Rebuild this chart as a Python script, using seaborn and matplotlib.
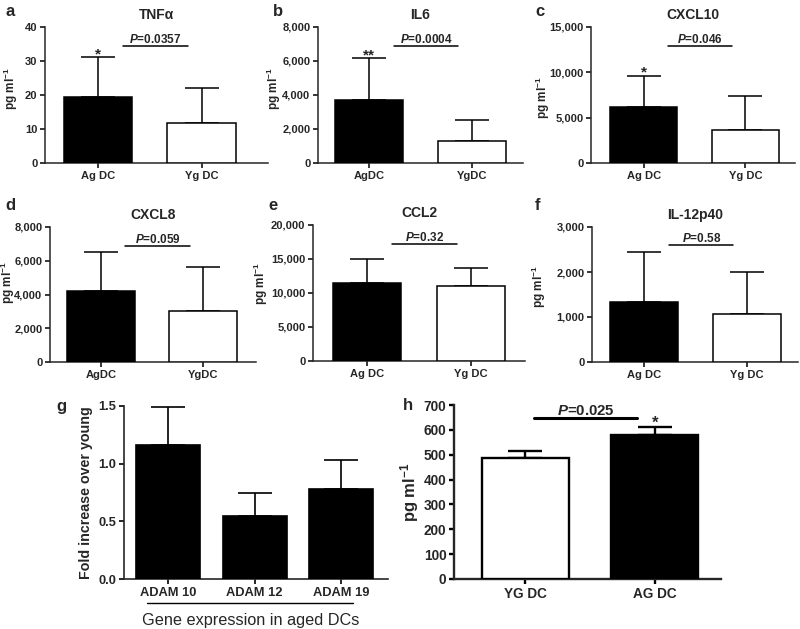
import pandas as pd
import seaborn as sns
import matplotlib.pyplot as plt
from matplotlib.ticker import StrMethodFormatter, MultipleLocator
from matplotlib.transforms import blended_transform_factory

sns.set_theme(style="ticks")
plt.rcParams["font.family"] = ["Liberation Sans", "DejaVu Sans"]
plt.rcParams["font.weight"] = "bold"
plt.rcParams["mathtext.fontset"] = "custom"
plt.rcParams["mathtext.rm"] = "Liberation Sans:bold"
plt.rcParams["mathtext.it"] = "Liberation Sans:italic:bold"
plt.rcParams["mathtext.bf"] = "Liberation Sans:bold"
plt.rcParams["mathtext.default"] = "rm"

# --- data ---
tnfa_groups = ["Ag DC", "Yg DC"]
tnfa_mean = [19.3, 11.9]
tnfa_err = [11.8, 10.1]

il6_groups = ["AgDC", "YgDC"]
il6_mean = [3700, 1300]
il6_err = [2450, 1250]

cxcl10_groups = ["Ag DC", "Yg DC"]
cxcl10_mean = [6200, 3600]
cxcl10_err = [3450, 3750]

cxcl8_groups = ["AgDC", "YgDC"]
cxcl8_mean = [4220, 3030]
cxcl8_err = [2280, 2610]

ccl2_groups = ["Ag DC", "Yg DC"]
ccl2_mean = [11470, 10980]
ccl2_err = [3480, 2700]

il12_groups = ["Ag DC", "Yg DC"]
il12_mean = [1330, 1070]
il12_err = [1110, 930]

adam_groups = ["ADAM 10", "ADAM 12", "ADAM 19"]
adam_fold = [1.16, 0.55, 0.78]
adam_err = [0.33, 0.20, 0.25]

h_groups = ["YG DC", "AG DC"]
h_mean = [488, 580]
h_err = [25, 33]

p_labels = ["0.0357", "0.0004", "0.046", "0.059", "0.32", "0.58", "0.025"]
p_heights = [34.4, 6880, 12900, 6870, 17200, 2600, 647]

W, H = 800, 629
fig = plt.figure(figsize=(W / 100, H / 100), dpi=100)


def add_ax(l, t, r, b):
    return fig.add_axes([l / W, 1 - b / H, (r - l) / W, (b - t) / H])


def draw(ax, groups, mean, err, colors, ymax, ystep, xlim, width, lw,
         tick_fs, fmt="{x:,.0f}"):
    df = pd.DataFrame({"group": groups, "value": mean})
    sns.barplot(data=df, x="group", y="value", hue="group",
                palette=dict(zip(groups, colors)), edgecolor="black",
                linewidth=lw, width=width, legend=False, ax=ax, zorder=3)
    ax.errorbar(range(len(groups)), mean, yerr=[[0] * len(err), err],
                fmt="none", ecolor="black", elinewidth=lw, capsize=12,
                capthick=lw, zorder=2)
    ax.set_ylim(0, ymax)
    ax.set_xlim(*xlim)
    ax.yaxis.set_major_locator(MultipleLocator(ystep))
    ax.yaxis.set_major_formatter(StrMethodFormatter(fmt))
    ax.set_xlabel("")
    ax.set_ylabel("")
    for s in ["top", "right"]:
        ax.spines[s].set_visible(False)
    for s in ["left", "bottom"]:
        ax.spines[s].set_linewidth(lw)
    ax.tick_params(axis="both", length=3.5, width=lw, labelsize=tick_fs,
                   pad=2, color="black")
    ax.set_facecolor("none")


def bracket(ax, x0, x1, y, text, fs, lw):
    ax.plot([x0, x1], [y, y], color="black", lw=lw, clip_on=False)
    ax.annotate(r"$\mathit{P}$=" + text, xy=((x0 + x1) / 2, y),
                xytext=(0, 2.5), textcoords="offset points", ha="center",
                va="baseline", fontsize=fs, fontweight="bold")


def star(ax, x, y, s, fs=11):
    ax.annotate(s, xy=(x, y), xytext=(0, -1), textcoords="offset points",
                ha="center", va="baseline", fontsize=fs, fontweight="bold")


ylab = r"pg ml$^{-1}$"
top_panels = [
    ("a", "TNFα", tnfa_groups, tnfa_mean, tnfa_err, 40, 10,
     (45, 27, 268, 163), (-0.51, 1.64), "*", (5, 12), (15, 89)),
    ("b", "IL6", il6_groups, il6_mean, il6_err, 8000, 2000,
     (318, 27, 523, 163), (-0.50, 1.50), "**", (273, 12), (278, 89)),
    ("c", "CXCL10", cxcl10_groups, cxcl10_mean, cxcl10_err, 15000, 5000,
     (591, 27, 795, 163), (-0.52, 1.49), "*", (535, 12), (547, 98)),
    ("d", "CXCL8", cxcl8_groups, cxcl8_mean, cxcl8_err, 8000, 2000,
     (50, 227, 256, 362), (-0.50, 1.52), "", (5, 205), (12, 283)),
    ("e", "CCL2", ccl2_groups, ccl2_mean, ccl2_err, 20000, 5000,
     (313, 225, 525, 361), (-0.52, 1.52), "", (268, 205), (265, 284)),
    ("f", "IL-12p40", il12_groups, il12_mean, il12_err, 3000, 1000,
     (592, 227, 798, 362), (-0.51, 1.50), "", (535, 206), (543, 287)),
]

for i, (letter, title, groups, mean, err, ymax, ystep, box, xlim, st,
        lpos, ypos) in enumerate(top_panels):
    ax = add_ax(*box)
    draw(ax, groups, mean, err, ["black", "white"], ymax, ystep, xlim,
         0.66, 1.1, 8.0)
    ax.set_title(title, fontsize=10, fontweight="bold", pad=6)
    ax.set_ylabel(ylab, fontsize=8.5, fontweight="bold")
    l, t, r, b = box
    ax.yaxis.set_label_coords((ypos[0] + 5 - l) / (r - l),
                              (b - ypos[1]) / (b - t))
    bracket(ax, 0.24, 0.87, p_heights[i], p_labels[i], 8.5, 1.1)
    if st:
        star(ax, 0, mean[0] + err[0], st)
    fig.text(lpos[0] / W, 1 - lpos[1] / H, letter, fontsize=12,
             fontweight="bold", ha="left", va="center")

# g: ADAM expression
ax = add_ax(124, 406, 388, 579)
draw(ax, adam_groups, adam_fold, adam_err, ["black"] * 3, 1.5, 0.5,
     (-0.51, 2.54), 0.74, 1.2, 9.3, fmt="{x:.1f}")
ax.set_ylabel("Fold increase over young", fontsize=10.3, fontweight="bold",
              labelpad=4)
tr = blended_transform_factory(ax.transData, ax.transAxes)
ax.plot([-0.24, 2.13], [-0.14, -0.14], color="black", lw=1.0,
        transform=tr, clip_on=False)
ax.text(0.95, -0.24, "Gene expression in aged DCs", transform=tr,
        ha="center", va="center", fontsize=11.7, fontweight="normal")
fig.text(56 / W, 1 - 406 / H, "g", fontsize=12, fontweight="bold",
         ha="left", va="center")

# h: young vs aged
ax = add_ax(454, 405, 721, 579)
draw(ax, h_groups, h_mean, h_err, ["white", "black"], 700, 100,
     (-0.55, 1.51), 0.67, 1.7, 9.8)
ax.set_ylabel(ylab, fontsize=12, fontweight="bold", labelpad=2)
bracket(ax, 0.07, 0.86, p_heights[6], p_labels[6], 10.8, 2.2)
star(ax, 1, h_mean[1] + h_err[1], "*", 12)
fig.text(403 / W, 1 - 406 / H, "h", fontsize=12, fontweight="bold",
         ha="left", va="center")

fig.savefig("out.png", dpi=100, facecolor="white")
